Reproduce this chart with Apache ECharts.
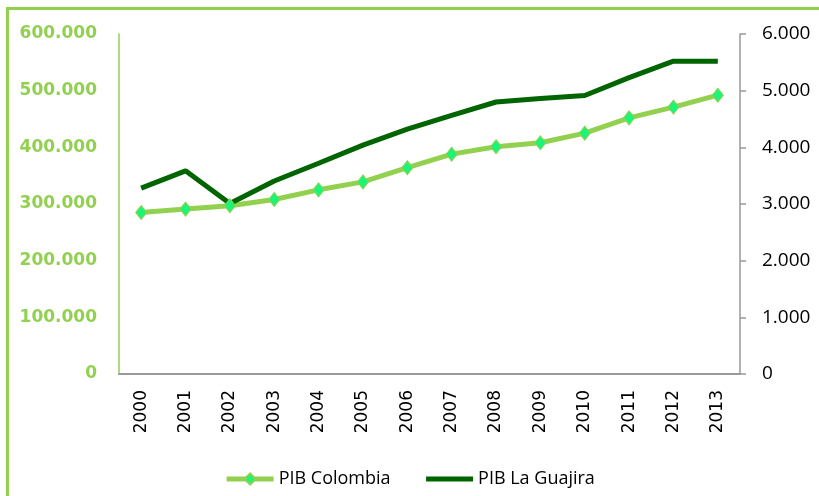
<!DOCTYPE html>
<html>
<head>
<meta charset="utf-8">
<script src="https://cdn.jsdelivr.net/npm/echarts@6/dist/echarts.min.js"></script>
<style>
  html, body { margin: 0; padding: 0; background: #fff; overflow: hidden; }
  #frame {
    position: absolute; left: 6px; top: 7px; width: 900px; height: 600px;
    border: 3px solid #92d050; box-sizing: border-box;
  }
  #chart { position: absolute; left: 0; top: 0; width: 819px; height: 496px; }
</style>
</head>
<body>
<div id="frame"></div>
<div id="chart"></div>
<script>
const years = ['2000', '2001', '2002', '2003', '2004', '2005', '2006',
  '2007', '2008', '2009', '2010', '2011', '2012', '2013']
const pibColombia = [285000, 291000, 297000, 308000, 325000, 339000, 364000,
  388000, 401000, 408000, 425000, 452000, 471000, 492000]
const pibGuajira = [3280, 3585, 3010, 3405, 3720, 4040, 4320,
  4565, 4800, 4860, 4915, 5230, 5520, 5520]
const leftTicks = [0, 100000, 200000, 300000, 400000, 500000, 600000]
const rightTicks = [0, 1000, 2000, 3000, 4000, 5000, 6000]

const fmt = (v) => String(v).replace(/\B(?=(\d{3})+(?!\d))/g, '.')

const chart = echarts.init(document.getElementById('chart'))
chart.setOption({
  animation: false,
  grid: { left: 119, right: 79, top: 34, bottom: 122, containLabel: false },
  legend: {
    top: 465,
    left: 'center',
    itemWidth: 47,
    itemHeight: 14,
    itemGap: 33,
    lineStyle: { width: 5 },
    textStyle: { fontFamily: '"Open Sans", sans-serif', fontSize: 18, color: '#000' },
    data: [
      { name: 'PIB Colombia' },
      { name: 'PIB La Guajira', itemStyle: { opacity: 0 } }
    ]
  },
  xAxis: {
    type: 'category',
    data: years,
    boundaryGap: true,
    axisLine: { lineStyle: { color: '#999', width: 2 } },
    axisTick: { show: false },
    axisLabel: {
      rotate: 90, margin: 16, color: '#000',
      fontFamily: '"DejaVu Sans", sans-serif', fontSize: 17
    }
  },
  yAxis: [
    {
      type: 'value',
      min: leftTicks[0],
      max: leftTicks[leftTicks.length - 1],
      interval: 100000,
      splitLine: { show: false },
      axisLine: { show: true, lineStyle: { color: '#92d050', width: 1.5 } },
      axisTick: { show: false },
      axisLabel: {
        margin: 22, color: '#92d050', fontWeight: 'bold',
        fontFamily: '"DejaVu Sans", sans-serif', fontSize: 17, formatter: fmt
      }
    },
    {
      type: 'value',
      position: 'right',
      min: rightTicks[0],
      max: rightTicks[rightTicks.length - 1],
      interval: 1000,
      splitLine: { show: false },
      axisLine: { show: true, lineStyle: { color: '#999', width: 1.5 } },
      axisTick: { show: true, length: 6, lineStyle: { color: '#999', width: 1.5 } },
      axisLabel: {
        margin: 22, color: '#000',
        fontFamily: '"Open Sans", sans-serif', fontSize: 19, formatter: fmt
      }
    }
  ],
  series: [
    {
      name: 'PIB Colombia',
      type: 'line',
      yAxisIndex: 0,
      data: pibColombia,
      symbol: 'diamond',
      symbolSize: [11, 14],
      lineStyle: { color: '#92d050', width: 5 },
      itemStyle: { color: '#1af578', borderColor: '#92d050', borderWidth: 1 }
    },
    {
      name: 'PIB La Guajira',
      type: 'line',
      yAxisIndex: 1,
      data: pibGuajira,
      symbol: 'none',
      lineStyle: { color: '#006400', width: 5 },
      itemStyle: { color: '#006400' }
    }
  ]
})
</script>
</body>
</html>
